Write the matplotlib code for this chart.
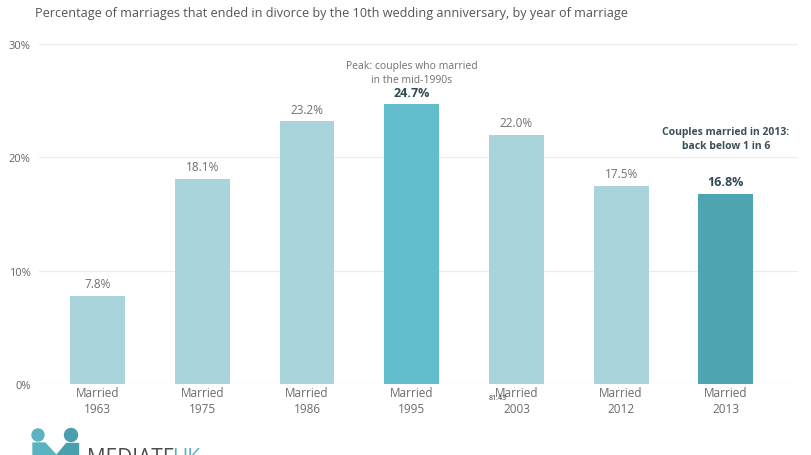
import matplotlib.pyplot as plt
from matplotlib.patches import Ellipse, Polygon

plt.rcParams['font.family'] = ['Open Sans', 'DejaVu Sans']

# data
years = ['1963', '1975', '1986', '1995', '2003', '2012', '2013']
values = [7.8, 18.1, 23.2, 24.7, 22.0, 17.5, 16.8]
colors = ['#a9d4dc', '#a9d4dc', '#a9d4dc', '#62bdcc', '#a9d4dc', '#a9d4dc', '#4fa4b1']
bold = [False, False, False, True, False, False, True]
yticks = [0, 10, 20, 30]

W, H = 811, 456
fig = plt.figure(figsize=(W / 100, H / 100), dpi=100)
ax = fig.add_axes([39 / W, 1 - 385 / H, (798 - 39) / W, (385 - 45) / H])

x = list(range(len(years)))
ax.bar(x, values, width=0.525, color=colors, zorder=2)
ax.set_xlim(-0.56, 6.69)
ax.set_ylim(0, 30)

ax.set_yticks(yticks)
ax.set_yticklabels([f'{t}%' for t in yticks], color='#666666', fontsize=8)
ax.yaxis.grid(True, color='#e8eef0', linewidth=0.9, zorder=0)
ax.set_xticks(x)
ax.set_xticklabels([f'Married\n{y}' for y in years], color='#6b6b6b',
                   fontsize=8.5, linespacing=1.3)
ax.tick_params(length=0)
ax.tick_params(axis='y', pad=6)
ax.tick_params(axis='x', pad=1.5)
for s in ax.spines.values():
    s.set_visible(False)

for xi, v, b in zip(x, values, bold):
    ax.annotate(f'{v:.1f}%', (xi, v), xytext=(0, 4), textcoords='offset points',
                ha='center', va='bottom',
                fontsize=9 if b else 8.5,
                fontweight='bold' if b else 'normal',
                color='#2f4a55' if b else '#707070')

ax.annotate('Peak: couples who married\nin the mid-1990s', (3, 24.7),
            xytext=(0, 14), textcoords='offset points', ha='center',
            va='bottom', fontsize=7.5, color='#707070', linespacing=1.3)
ax.annotate('Couples married in 2013:\nback below 1 in 6', (6, 16.8),
            xytext=(0, 31), textcoords='offset points', ha='center',
            va='bottom', fontsize=7.5, fontweight='bold', color='#3c4f58',
            linespacing=1.3)

fig.text(35 / W, 1 - 13 / H, 'Percentage of marriages that ended in divorce by the 10th '
         'wedding anniversary, by year of marriage', fontsize=9.1,
         color='#555555', va='center', ha='left')

# stray label near 2003 tick
fig.text(489 / W, 1 - 398 / H, '81.43', fontsize=5, color='#333333',
         va='center', ha='left')

# partial logo at bottom left
logo = '#5bb3c1'
logo2 = '#4a9fae'
fig.patches.append(Polygon([(33 / W, 1 - 444 / H), (45 / W, 1 - 444 / H),
                            (56 / W, 1 - 456 / H), (33 / W, 1 - 456 / H)],
                           transform=fig.transFigure, color=logo))
fig.patches.append(Polygon([(66 / W, 1 - 444 / H), (78 / W, 1 - 444 / H),
                            (78 / W, 1 - 456 / H), (56 / W, 1 - 456 / H)],
                           transform=fig.transFigure, color=logo2))
fig.patches.append(Ellipse((38 / W, 1 - 436 / H), 12 / W, 12 / H,
                           transform=fig.transFigure, color=logo))
fig.patches.append(Ellipse((71 / W, 1 - 436 / H), 13 / W, 13 / H,
                           transform=fig.transFigure, color=logo2))
fig.text(87 / W, 1 - 448 / H, 'MEDIATE', fontsize=15, color='#4d4d4d',
         va='top', ha='left')
fig.text(172 / W, 1 - 448 / H, 'UK', fontsize=15, color=logo, va='top', ha='left')

fig.savefig('out.png', dpi=100, facecolor='white')
